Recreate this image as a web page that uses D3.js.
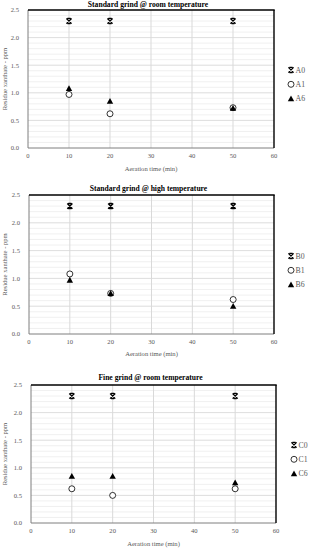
<!DOCTYPE html>
<html>
<head>
<meta charset="utf-8">
<script src="https://cdn.jsdelivr.net/npm/d3@7"></script>
<style>
  body { margin: 0; background: #fff; }
  svg { display: block; }
</style>
</head>
<body>
<script>
// aeration times (min)
var times = [10, 20, 50];

// panel titles and series names
var titles = ["Standard grind @ room temperature", "Standard grind @ high temperature", "Fine grind @ room temperature"];
var seriesNames = [["A0", "A1", "A6"], ["B0", "B1", "B6"], ["C0", "C1", "C6"]];

// residue xanthate (ppm)
var a0 = [2.3, 2.3, 2.3];
var a1 = [0.97, 0.62, 0.73];
var a6 = [1.08, 0.85, 0.72];
var b0 = [2.3, 2.3, 2.3];
var b1 = [1.08, 0.73, 0.62];
var b6 = [0.97, 0.73, 0.5];
var c0 = [2.3, 2.3, 2.3];
var c1 = [0.62, 0.5, 0.62];
var c6 = [0.85, 0.85, 0.73];

var xTicks = [0, 10, 20, 30, 40, 50, 60];
var yTicks = [0, 0.5, 1, 1.5, 2, 2.5];

var panelData = [[a0, a1, a6], [b0, b1, b6], [c0, c1, c6]];

// layout of each panel (pixel boxes of the plot areas)
var boxes = [
  {l: 28, r: 274, t: 10, b: 148, title: 7, xlab: 171, leg: 291, legY: 70},
  {l: 29, r: 274, t: 195, b: 334, title: 191, xlab: 356, leg: 291, legY: 256},
  {l: 31, r: 276, t: 385, b: 523, title: 380, xlab: 546, leg: 294, legY: 445}
];

var svg = d3.select("body").append("svg")
  .attr("width", 310)
  .attr("height", 550);

var font = "'Liberation Serif', 'DejaVu Serif', serif";
var shapes = ["xstar", "circle", "triangle"];

function drawMarker(g, kind, cx, cy) {
  if (kind == "xstar") {
    var s = 2.6, c = 1.6;
    g.append("path")
      .attr("d", "M" + (cx - s) + "," + (cy - s) + "L" + (cx + s) + "," + (cy + s) +
        "M" + (cx + s) + "," + (cy - s) + "L" + (cx - s) + "," + (cy + s) +
        "M" + (cx - c) + "," + (cy - s) + "L" + (cx + c) + "," + (cy - s) +
        "M" + (cx - c) + "," + (cy + s) + "L" + (cx + c) + "," + (cy + s))
      .attr("stroke", "#000").attr("stroke-width", 1.3).attr("fill", "none");
  } else if (kind == "circle") {
    g.append("circle").attr("cx", cx).attr("cy", cy).attr("r", 3)
      .attr("fill", "#fff").attr("stroke", "#000").attr("stroke-width", 0.8);
  } else {
    var h = 3.2;
    g.append("path")
      .attr("d", "M" + cx + "," + (cy - h) + "L" + (cx + h) + "," + (cy + h * 0.8) + "L" + (cx - h) + "," + (cy + h * 0.8) + "Z")
      .attr("fill", "#000");
  }
}

boxes.forEach(function(bx, p) {
  var x = d3.scaleLinear().domain([0, 60]).range([bx.l, bx.r]);
  var y = d3.scaleLinear().domain([0, 2.5]).range([bx.b, bx.t]);
  var g = svg.append("g");

  // minor horizontal grid every 0.1
  g.selectAll(".minor").data(d3.range(1, 25)).enter().append("line")
    .attr("x1", bx.l).attr("x2", bx.r)
    .attr("y1", function(d) { return y(d / 10); })
    .attr("y2", function(d) { return y(d / 10); })
    .attr("stroke", function(d) { return d % 5 == 0 ? "#d4d4d4" : "#ececec"; })
    .attr("stroke-width", 0.8);

  // vertical grid
  g.selectAll(".vgrid").data(xTicks.slice(1, -1)).enter().append("line")
    .attr("x1", function(d) { return x(d); }).attr("x2", function(d) { return x(d); })
    .attr("y1", bx.t).attr("y2", bx.b)
    .attr("stroke", "#d9d9d9").attr("stroke-width", 1);

  // frame
  g.append("line").attr("x1", bx.l).attr("x2", bx.l).attr("y1", bx.t).attr("y2", bx.b)
    .attr("stroke", "#7f7f7f").attr("stroke-width", 1);
  g.append("line").attr("x1", bx.l).attr("x2", bx.r).attr("y1", bx.b).attr("y2", bx.b)
    .attr("stroke", "#7f7f7f").attr("stroke-width", 1);
  g.append("line").attr("x1", bx.l).attr("x2", bx.r + 0.7).attr("y1", bx.t).attr("y2", bx.t)
    .attr("stroke", "#000").attr("stroke-width", 1.4);
  g.append("line").attr("x1", bx.r).attr("x2", bx.r).attr("y1", bx.t).attr("y2", bx.b)
    .attr("stroke", "#000").attr("stroke-width", 1.4);

  // tick labels
  g.selectAll(".yt").data(yTicks).enter().append("text")
    .attr("x", bx.l - 9).attr("y", function(d) { return y(d) + 2.3; })
    .attr("text-anchor", "end")
    .attr("font-family", font).attr("font-size", "6.6px").attr("fill", "#595959")
    .text(function(d) { return d3.format(".1f")(d); });
  g.selectAll(".xt").data(xTicks).enter().append("text")
    .attr("x", function(d) { return x(d); }).attr("y", bx.b + 9.5)
    .attr("text-anchor", "middle")
    .attr("font-family", font).attr("font-size", "6.6px").attr("fill", "#595959")
    .text(function(d) { return d; });

  // axis titles
  g.append("text")
    .attr("transform", "translate(7," + ((bx.t + bx.b) / 2) + ") rotate(-90)")
    .attr("text-anchor", "middle")
    .attr("font-family", font).attr("font-size", "6.6px").attr("fill", "#595959")
    .text("Residue xanthate - ppm");
  g.append("text")
    .attr("x", (bx.l + bx.r) / 2).attr("y", bx.xlab)
    .attr("text-anchor", "middle")
    .attr("font-family", font).attr("font-size", "6.6px").attr("fill", "#595959")
    .text("Aeration time (min)");
  g.append("text")
    .attr("x", (bx.l + bx.r) / 2 - 3).attr("y", bx.title)
    .attr("text-anchor", "middle")
    .attr("font-family", font).attr("font-size", "7.6px").attr("font-weight", "bold")
    .attr("fill", "#000")
    .text(titles[p]);

  // points
  panelData[p].forEach(function(vals, s) {
    vals.forEach(function(v, i) {
      drawMarker(g, shapes[s], x(times[i]), y(v));
    });
  });

  // legend
  seriesNames[p].forEach(function(name, s) {
    var ly = bx.legY + s * 14.3;
    drawMarker(g, shapes[s], bx.leg, ly);
    g.append("text").attr("x", bx.leg + 4.5).attr("y", ly + 2.7)
      .attr("font-family", font).attr("font-size", "7.8px").attr("fill", "#595959")
      .text(name);
  });
});
</script>
</body>
</html>
